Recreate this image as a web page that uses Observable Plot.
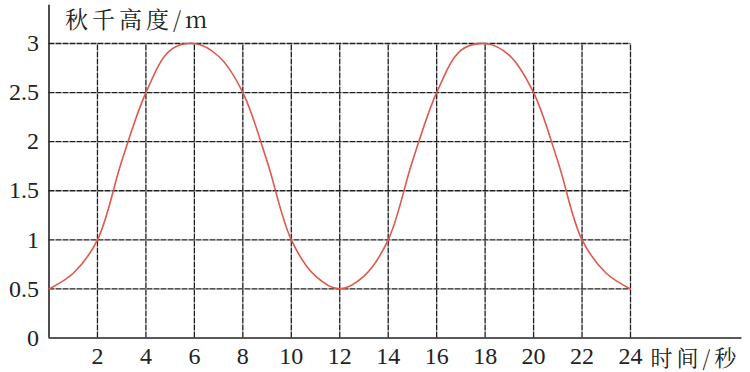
<!DOCTYPE html>
<html><head><meta charset="utf-8">
<script src="https://cdn.jsdelivr.net/npm/d3@7"></script>
<script src="https://cdn.jsdelivr.net/npm/@observablehq/plot@0.6"></script>
<style>body{margin:0;background:#fff}</style>
</head><body><div id="chart"></div>
<script>
const times   = [0,1,2,3,4,5,6,7,8,9,10,11,12,13,14,15,16,17,18,19,20,21,22,23,24];
const heights = [0.5,0.66,1,1.8,2.5,2.93,3,2.87,2.5,1.8,1,0.63,0.5,0.63,1,1.8,2.5,2.93,3,2.88,2.5,1.8,1,0.66,0.5];
const xTicks = [2,4,6,8,10,12,14,16,18,20,22,24];
const yTicks = [0,0.5,1,1.5,2,2.5,3];
const yTitle = "秋千高度/m";
const xTitle = "时间/秒";
const xAxisEnd = 28.6;
const yAxisTop = 3.39;

const data = times.map((t, i) => ({t, h: heights[i]}));
const gridColor = "#1e1e1e";
const serif = "Liberation Serif";
const cjk = "'Noto Serif CJK SC', 'Noto Sans CJK SC', sans-serif";

const chart = Plot.plot({
  width: 750, height: 372,
  marginLeft: 48.5, marginRight: 120, marginTop: 43, marginBottom: 34.5,
  style: {fontSize: "24px", background: "#fff", color: "#222", fontFamily: serif},
  x: {domain: [0, 24]},
  y: {domain: [0, 3]},
  marks: [
    Plot.ruleX(xTicks, {y1: 0, y2: 3, stroke: gridColor, strokeWidth: 1.3, strokeDasharray: "6,1"}),
    Plot.ruleY(yTicks.filter(d => d > 0), {x1: 0, x2: 24, stroke: gridColor, strokeWidth: 1.3, strokeDasharray: "6,1"}),
    Plot.ruleY([0], {x1: 0, x2: xAxisEnd, stroke: "#222", strokeWidth: 1.6}),
    Plot.ruleX([0], {y1: 0, y2: yAxisTop, stroke: "#222", strokeWidth: 1.6}),
    Plot.axisX({ticks: xTicks, tickSize: 0, tickPadding: 9, label: null, fontSize: 24, fontFamily: serif, fontVariant: "normal", tickFormat: d => String(d)}),
    Plot.axisY({ticks: yTicks, tickSize: 0, tickPadding: 10, label: null, fontSize: 24, fontFamily: serif, fontVariant: "normal", tickFormat: d => String(d)}),
    Plot.line(data, {x: "t", y: "h", stroke: "#e0574c", strokeWidth: 1.6, curve: "catmull-rom"}),
    Plot.text([yTitle], {frameAnchor: "top-left", dx: 16, dy: -23, textAnchor: "start", lineAnchor: "middle",
      fontSize: 23, fill: "#222", fontFamily: cjk}),
    Plot.text([xTitle], {frameAnchor: "bottom-right", dx: 20, dy: 21, textAnchor: "start", lineAnchor: "middle",
      fontSize: 22, fill: "#222", fontFamily: cjk})
  ]
});
chart.querySelectorAll("text").forEach(t => {
  const s = t.textContent;
  if (s === yTitle || s === xTitle) {
    t.setAttribute("letter-spacing", "4");
  }
});
document.getElementById("chart").append(chart);
</script>
</body></html>
